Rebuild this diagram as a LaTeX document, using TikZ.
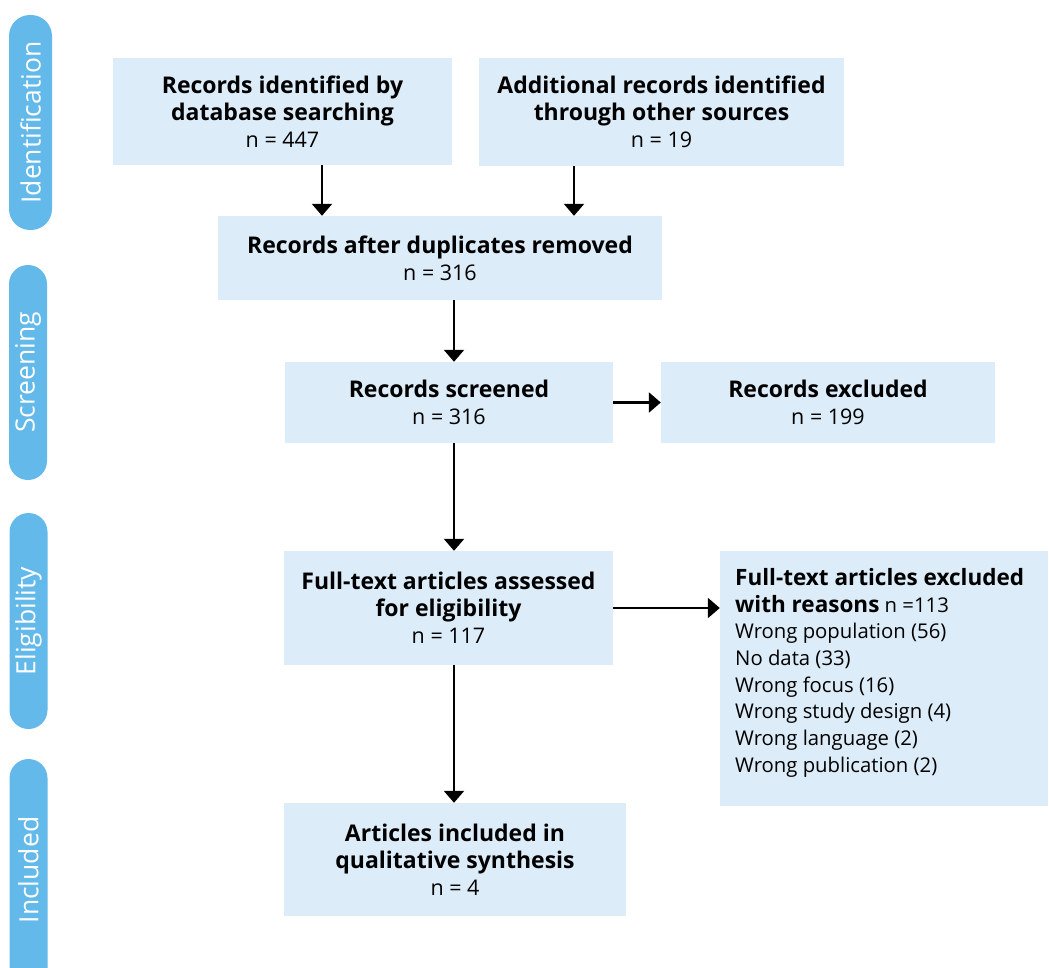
\documentclass[tikz,border=0pt]{standalone}
\usepackage{fontspec}
\setmainfont{Open Sans}
\usetikzlibrary{arrows.meta}
\definecolor{boxfill}{HTML}{DCECF8}
\definecolor{pill}{HTML}{63B9EA}
\tikzset{
  box/.style={rectangle, fill=boxfill, inner sep=0pt, align=center, font=\fontsize{21.5}{26.8}\selectfont},
  pillbox/.style={rectangle, fill=pill, inner sep=0pt},
  pilltext/.style={rotate=90, text=white, inner sep=0pt, font=\fontsize{26.5}{30}\selectfont},
  arr/.style={line width=2.4pt, -{Triangle[width=20pt,length=12pt]}},
}
\newcommand{\hd}[1]{{\fontsize{23}{26.8}\selectfont\bfseries #1}}
\begin{document}
\begin{tikzpicture}[x=1pt,y=-1pt]
\useasboundingbox (0,0) rectangle (1049,968);
% phase pills
\node[pillbox, rounded corners=21pt, minimum width=43pt, minimum height=215pt] (pid) at (30.5,122.5) {};
\node[pilltext] (tid) at (pid.center) {Identification};
\node[pillbox, rounded corners=19pt, minimum width=38pt, minimum height=215pt] (psc) at (28,372.5) {};
\node[pilltext] (tsc) at (psc.center) {Screening};
\node[pillbox, rounded corners=19pt, minimum width=38pt, minimum height=216pt] (pel) at (28.5,621) {};
\node[pilltext] (tel) at (pel.center) {Eligibility};
\node[pillbox, rounded corners=19pt, minimum width=38pt, minimum height=240pt] (pin) at (28.5,879) {};
\node[pilltext] (tin) at (28.5,870) {Included};
% boxes
\node[box, minimum width=339pt, minimum height=107pt] (b1) at (282.5,111.5)
  {\hd{Records identified by}\\\hd{database searching}\\n = 447};
\node[box, minimum width=365pt, minimum height=108pt] (b2) at (661.5,112)
  {\hd{Additional records identified}\\\hd{through other sources}\\n = 19};
\node[box, minimum width=444pt, minimum height=84pt] (b3) at (440,258)
  {\hd{Records after duplicates removed}\\n = 316};
\node[box, minimum width=328pt, minimum height=81pt] (b4) at (449,402.5)
  {\hd{Records screened}\\n = 316};
\node[box, minimum width=334pt, minimum height=81pt] (b5) at (828,402.5)
  {\hd{Records excluded}\\n = 199};
\node[box, minimum width=329pt, minimum height=114pt] (b6) at (448.5,608)
  {\hd{Full-text articles assessed}\\\hd{for eligibility}\\n = 117};
\node[box, minimum width=328pt, minimum height=255pt] (b7) at (884,678.5) {};
\node[anchor=north west, align=left, inner sep=0pt, font=\fontsize{20.3}{26.7}\selectfont] (b7t) at (735,568)
  {{\fontsize{22.5}{26.7}\selectfont\bfseries Full-text articles excluded}\\{\fontsize{22.5}{26.7}\selectfont\bfseries with reasons} n =113\\Wrong population (56)\\No data (33)\\Wrong focus (16)\\Wrong study design (4)\\Wrong language (2)\\Wrong publication (2)};
\node[box, minimum width=342pt, minimum height=113pt] (b8) at (455,859.5)
  {\hd{Articles included in}\\\hd{qualitative synthesis}\\n = 4};
% connectors
\coordinate (x1) at (322,0);
\coordinate (x2) at (574,0);
\coordinate (x3) at (454,0);
\draw[arr] (b1.south -| x1) -- (b3.north -| x1);
\draw[arr] (b2.south -| x2) -- (b3.north -| x2);
\draw[arr] (b3.south -| x3) -- (b4.north -| x3);
\draw[arr] (b4.south -| x3) -- (b6.north -| x3);
\draw[arr] (b6.south -| x3) -- (b8.north -| x3);
\draw[arr] (b4.east) -- (b5.west);
\draw[arr] (b6.east) -- (b7.west |- b6.east);
\end{tikzpicture}
\end{document}
